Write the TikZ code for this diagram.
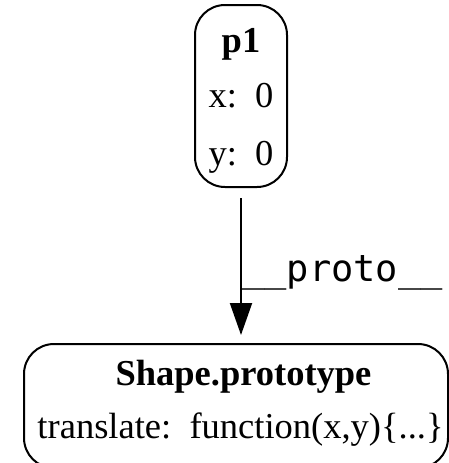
\documentclass[tikz,border=0pt]{standalone}
\usepackage{fontspec}
\setmainfont{Liberation Serif}
\newfontfamily\monofont{DejaVu Sans Mono}
\usetikzlibrary{arrows.meta}
\begin{document}
\begin{tikzpicture}[x=1pt,y=-1pt,
  box/.style={draw, line width=2pt, rounded corners=30pt, inner sep=0pt},
  txt/.style={font=\fontsize{36.5}{40}\selectfont, anchor=base, inner sep=0pt},
  btxt/.style={font=\bfseries\fontsize{36.5}{40}\selectfont, anchor=base, inner sep=0pt},
  lbl/.style={font=\monofont\fontsize{37}{40}\selectfont, anchor=base west, inner sep=0pt},
  edge/.style={line width=2pt, -{Triangle[width=22pt,length=32pt]}}]
\useasboundingbox (0,0) rectangle (449,463);
\clip (0,0) rectangle (449,463);
\node[box, minimum width=92pt, minimum height=182pt] (p1) at (241,96) {};
\node[btxt] (p1t) at (241,52) {p1};
\node[txt] (p1x) at (241,107) {x:\ \ 0};
\node[txt] (p1y) at (241,165) {y:\ \ 0};
\node[box, minimum width=424pt, minimum height=124pt, anchor=north west] (sp) at (23,343) {};
\node[btxt] (spt) at (243.5,385) {Shape.prototype};
\node[txt] (spf) at (240.5,438) {translate:\ \ function(x,y)\{...\}};
\coordinate (s1) at (241,198);
\coordinate (e1) at (241,335);
\draw[edge] (s1) -- (e1);
\node[lbl] (lab) at (242,281) {\_\_proto\_\_};
\end{tikzpicture}
\end{document}
